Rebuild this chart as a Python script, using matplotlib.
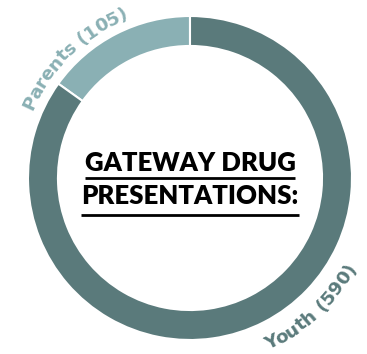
import numpy as np
import matplotlib
matplotlib.use("Agg")
import matplotlib.pyplot as plt
from matplotlib.font_manager import FontProperties

categories = ["Parents", "Youth"]
values = [105, 590]
colors = ["#8ab0b4", "#5a7a7b"]
title_lines = ["GATEWAY DRUG", "PRESENTATIONS:"]

W, H = 367, 354
fig = plt.figure(figsize=(W / 100, H / 100), dpi=100)
ax = fig.add_axes([0, 0, 1, 1])

cx, cy = 190, H - 178
R = 162
ax.pie(values, colors=colors, startangle=90, counterclock=True,
       center=(cx, cy), radius=R,
       wedgeprops=dict(width=R * 0.185, edgecolor="white", linewidth=1.5))
ax.set_xlim(0, W)
ax.set_ylim(0, H)
ax.set_aspect("equal")
ax.axis("off")

fig.canvas.draw()
renderer = fig.canvas.get_renderer()

label_fp = FontProperties(family="DejaVu Sans", weight="bold", size=13.2)


def text_w(s, fp):
    w_s, _, _ = renderer.get_text_width_height_descent(s + "x", fp, ismath=False)
    w_x, _, _ = renderer.get_text_width_height_descent("x", fp, ismath=False)
    return w_s - w_x


def curved_text(s, center_deg, radius, color, clockwise=True):
    widths = [text_w(s[:i], label_fp) for i in range(len(s) + 1)]
    total = widths[-1]
    for i, ch in enumerate(s):
        mid = (widths[i] + widths[i + 1]) / 2 - total / 2
        dtheta = np.degrees(mid / radius)
        if clockwise:
            th = center_deg - dtheta
            rot = th - 90
        else:
            th = center_deg + dtheta
            rot = th + 90
        x = cx + radius * np.cos(np.radians(th))
        y = cy + radius * np.sin(np.radians(th))
        ax.text(x, y, ch, rotation=rot, rotation_mode="anchor",
                ha="center", va="center", color=color, fontproperties=label_fp)


curved_text(f"{categories[0]} ({values[0]})", 134, 176, colors[0], clockwise=True)
curved_text(f"{categories[1]} ({values[1]})", -47, 184, colors[1], clockwise=False)

title_fp = FontProperties(family="Lato", weight="heavy", size=18.5)
ys = [H - 163, H - 196]
uls = [H - 177.5, H - 215]
for line, y, uy in zip(title_lines, ys, uls):
    t = ax.text(cx, y, line, ha="center", va="center", color="black",
                fontproperties=title_fp)
    bb = t.get_window_extent(renderer=renderer)
    ax.plot([bb.x0, bb.x1], [uy, uy], color="black", lw=2.0,
            solid_capstyle="butt")

fig.savefig("out.png", dpi=100)
